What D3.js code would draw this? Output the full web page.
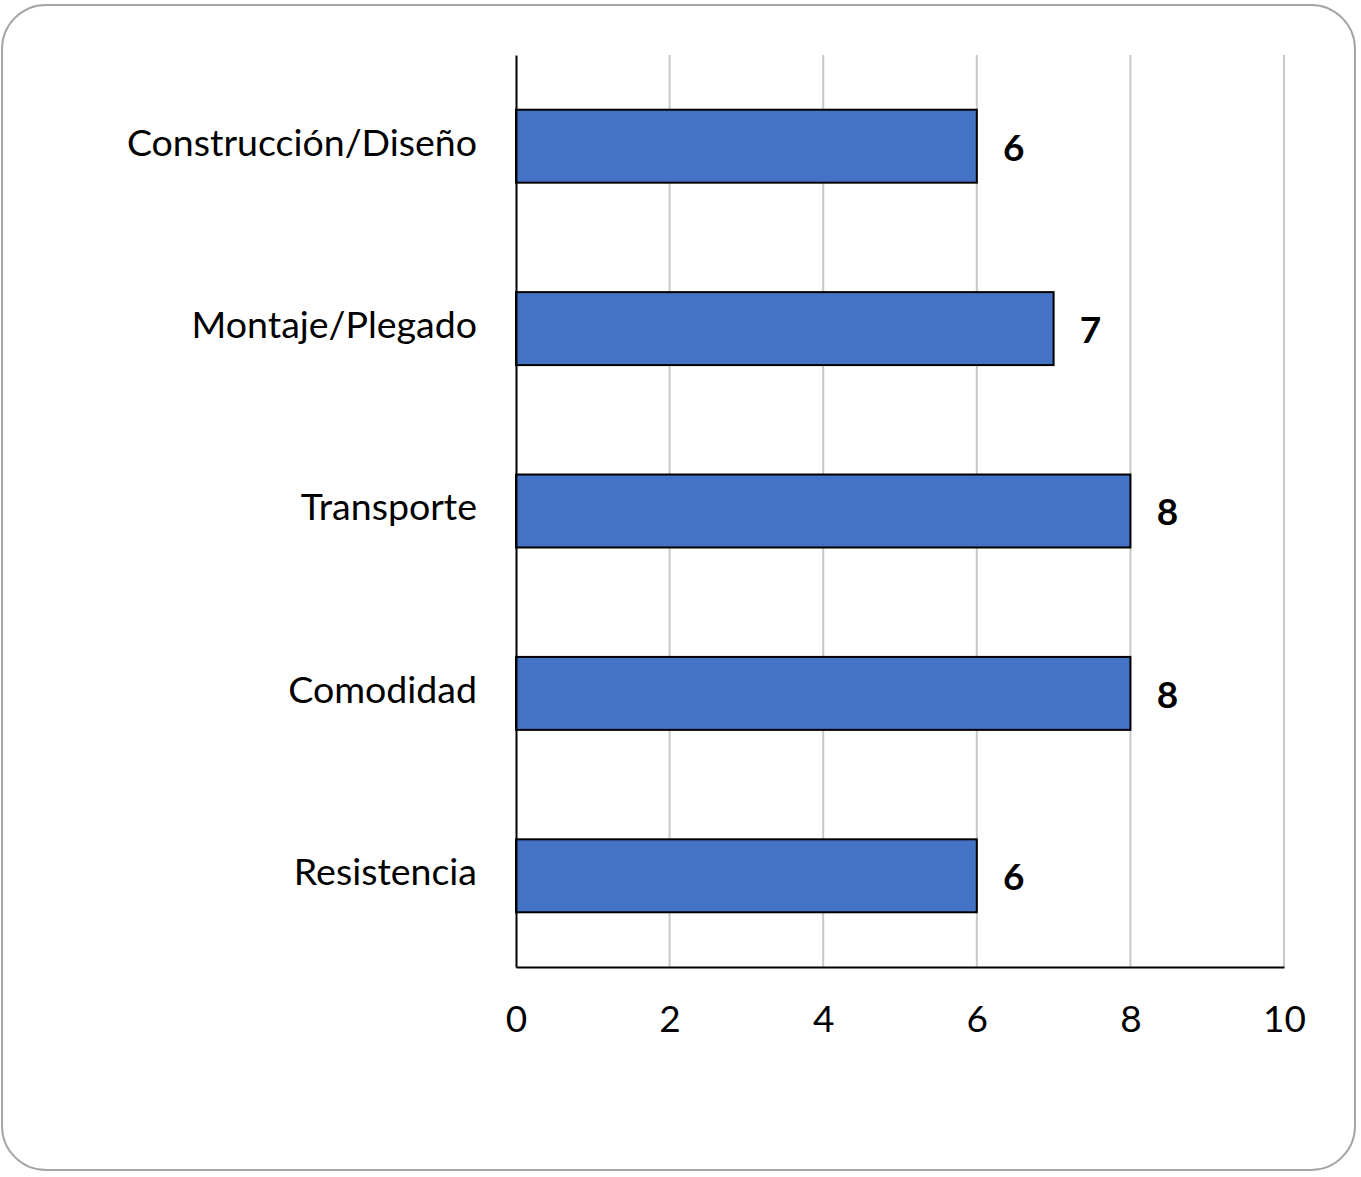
<!DOCTYPE html>
<html>
<head>
<meta charset="utf-8">
<script src="https://cdn.jsdelivr.net/npm/d3@7"></script>
<style>
  body { margin: 0; background: #fff; }
  svg { display: block; font-family: Lato, "Open Sans", sans-serif; }
</style>
</head>
<body>
<div class="container"></div>
<script>
(function(d3) {
  "use strict";

  var categories = [
    "Construcción/Diseño",
    "Montaje/Plegado",
    "Transporte",
    "Comodidad",
    "Resistencia"
  ];

  var values = [6, 7, 8, 8, 6];

  var tickValues = [0, 2, 4, 6, 8, 10];

  var width = 1361, height = 1177;
  var margin = { left: 516, right: 77, top: 55, bottom: 210 };

  var svg = d3.select(".container").append("svg")
      .attr("width", width)
      .attr("height", height);

  // outer rounded frame
  svg.append("rect")
      .attr("x", 2)
      .attr("y", 5)
      .attr("width", 1353)
      .attr("height", 1165)
      .attr("rx", 44)
      .attr("ry", 44)
      .style("fill", "#fff")
      .style("stroke", "#a6a6a6")
      .style("stroke-width", 2);

  var x = d3.scaleLinear()
      .domain([0, 10])
      .range([margin.left, width - margin.right]);

  var y = d3.scaleBand()
      .domain(categories)
      .range([margin.top, height - margin.bottom])
      .paddingInner(0.6)
      .paddingOuter(0.3);

  var y0 = margin.top, y1 = height - margin.bottom;

  // gridlines
  svg.append("g")
      .attr("class", "grid")
    .selectAll("line")
      .data(tickValues.slice(1))
    .enter().append("line")
      .attr("x1", function(d) { return x(d); })
      .attr("x2", function(d) { return x(d); })
      .attr("y1", y0)
      .attr("y2", y1)
      .style("stroke", "#c8c8c8")
      .style("stroke-width", 2);

  // bars
  svg.append("g")
      .attr("class", "bars")
    .selectAll("rect")
      .data(values)
    .enter().append("rect")
      .attr("x", x(0))
      .attr("y", function(d, i) { return y(categories[i]); })
      .attr("width", function(d) { return x(d) - x(0); })
      .attr("height", y.bandwidth())
      .style("fill", "#4472c4")
      .style("stroke", "#000")
      .style("stroke-width", 2);

  // value labels
  svg.append("g")
      .attr("class", "values")
    .selectAll("text")
      .data(values)
    .enter().append("text")
      .attr("x", function(d) { return x(d) + 37; })
      .attr("y", function(d, i) { return y(categories[i]) + y.bandwidth() / 2 + 5; })
      .attr("text-anchor", "middle")
      .attr("dominant-baseline", "middle")
      .style("font-size", "37px")
      .style("font-weight", "bold")
      .style("fill", "#000")
      .text(function(d) { return d; });

  // axes
  var xAxis = d3.axisBottom(x)
      .tickValues(tickValues)
      .tickSize(0)
      .tickPadding(39);

  var gx = svg.append("g")
      .attr("transform", "translate(0," + y1 + ")")
      .call(xAxis);
  gx.select(".domain").style("stroke", "#000").style("stroke-width", 2);
  gx.selectAll("text")
      .style("font-size", "37px")
      .style("font-family", "Lato, 'Open Sans', sans-serif")
      .style("fill", "#000");

  var yAxis = d3.axisLeft(y)
      .tickSize(0)
      .tickPadding(39);

  var gy = svg.append("g")
      .attr("transform", "translate(" + x(0) + ",0)")
      .call(yAxis);
  gy.select(".domain").style("stroke", "#000").style("stroke-width", 2);
  gy.selectAll("text")
      .attr("dy", "0.25em")
      .style("font-size", "37.5px")
      .style("font-family", "Lato, 'Open Sans', sans-serif")
      .style("fill", "#000");

}(d3));
</script>
</body>
</html>
